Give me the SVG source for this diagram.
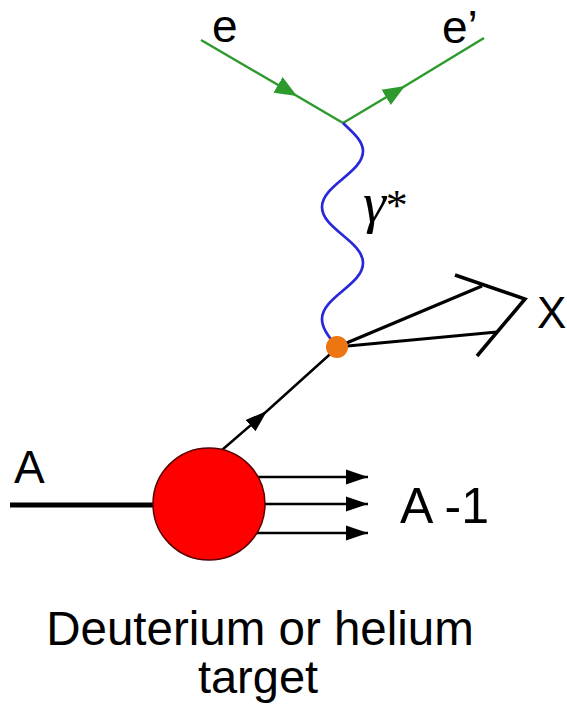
<svg xmlns="http://www.w3.org/2000/svg" width="567" height="707" viewBox="0 0 567 707">
<style>
.lbl{font-family:"Liberation Sans",Arial,sans-serif;fill:#000}
.green{stroke:#2e9a2e;stroke-width:2.5;fill:none}
.blk{stroke:#000;fill:none}
</style>
<defs>
<marker id="ag" markerUnits="userSpaceOnUse" markerWidth="24" markerHeight="20" viewBox="0 0 24 20" refX="22" refY="10" orient="auto">
<path d="M0,1 L22,10 L0,19 z" fill="#2e9a2e"/>
</marker>
<marker id="ab" markerUnits="userSpaceOnUse" markerWidth="24" markerHeight="18" viewBox="0 0 24 18" refX="22" refY="9" orient="auto">
<path d="M0,1.5 L22,9 L0,16.5 z" fill="#000"/>
</marker>
</defs>
<rect width="567" height="707" fill="#fff"/>
<g id="connectors">
<path id="e-in" class="green" d="M201,40 L297,96 L343,123" marker-mid="url(#ag)"/>
<path id="e-out" class="green" d="M343,123 L405,86 L484,38" marker-mid="url(#ag)"/>
<path id="photon" d="M343,123 C350,130 363,140 363,151 C363,173 322,185 322,207 C322,229 363,241 363,263 C363,285 322,297 322,319 C322,330 331,340 338,347" stroke="#2828d8" stroke-width="2.7" fill="none"/>
<path id="quark" class="blk" stroke-width="2.5" d="M222,450 L267,411 L338,347" marker-mid="url(#ab)"/>
<path id="x-up" class="blk" stroke-width="3.2" d="M337,347 L482,286"/>
<path id="x-low" class="blk" stroke-width="3.2" d="M337,347 L497,332"/>
<polyline id="x-head" class="blk" stroke-width="3.5" points="455,275 525,299 477,356"/>
<line id="a-in" x1="10" y1="505" x2="160" y2="505" stroke="#000" stroke-width="5"/>
<path id="r1" class="blk" stroke-width="2.5" d="M250,477 L368,477" marker-end="url(#ab)"/>
<path id="r2" class="blk" stroke-width="2.5" d="M250,504 L368,504" marker-end="url(#ab)"/>
<path id="r3" class="blk" stroke-width="2.5" d="M250,533 L368,533" marker-end="url(#ab)"/>
</g>
<g id="nucleus">
<circle cx="209" cy="504" r="56" fill="#ff0000" stroke="#5a0000" stroke-width="1.5"/>
</g>
<g id="vertex">
<circle cx="337" cy="347" r="11" fill="#ec7612"/>
</g>
<g id="labels">
<text class="lbl" x="212" y="42" font-size="46">e</text>
<text class="lbl" x="442" y="43" font-size="46">e’</text>
<text x="363" y="222" font-size="58" font-family="'Liberation Serif','DejaVu Serif',serif" font-style="italic">γ<tspan font-style="normal" font-size="44" dy="-2">*</tspan></text>
<text class="lbl" x="537" y="328" font-size="44">X</text>
<text class="lbl" x="14" y="483" font-size="46">A</text>
<text class="lbl" x="400" y="523" font-size="50">A -1</text>
<text class="lbl" x="260" y="645" font-size="47.5" text-anchor="middle">Deuterium or helium</text>
<text class="lbl" x="258" y="693" font-size="47" text-anchor="middle">target</text>
</g>
</svg>
